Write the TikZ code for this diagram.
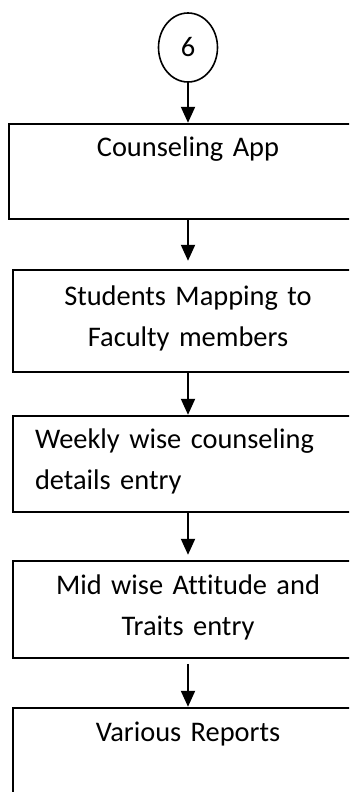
\documentclass[tikz,border=0pt]{standalone}
\usepackage{fontspec}
\setmainfont[RawFeature={-liga;-clig;-dlig;-calt}]{Carlito}
\usetikzlibrary{positioning, arrows.meta, shapes.geometric}
\newcommand\linestrut{\rule[-5pt]{0pt}{15.5pt}}

\begin{document}
\begin{tikzpicture}[
    >={Triangle[length=8pt, width=7pt]},
    node distance=24pt,
    every node/.style={font=\fontsize{14.2}{20.5}\selectfont},
    stepbox/.style={draw, line width=1pt, minimum width=175pt, minimum height=48pt, text width=153pt, inner xsep=11pt, inner ysep=0pt, align=center, execute at begin node=\linestrut, execute at end node=\linestrut},
    startnode/.style={draw, ellipse, line width=0.8pt, minimum width=29.5pt, minimum height=34.5pt, inner sep=0pt},
    flow/.style={->, line width=1pt},
]

    % page frame (boxes run off the right and bottom edge)
    \useasboundingbox (0,0) rectangle (174.5pt,-396pt);
    \clip (0,0) rectangle (174.5pt,-396pt);

    % 1. Connector
    \node[startnode] (start) at (94pt,-23.75pt) {6};

    % 2. Steps
    \node[stepbox, below=20pt of start, minimum width=179pt, text width=157pt, minimum height=47.5pt] (app) {Counseling App\\};
    \node[stepbox, below=24.5pt of app, minimum height=51pt] (map) {Students Mapping to\\Faculty members};
    \node[stepbox, below=21pt of map, align=left] (weekly) {Weekly wise counseling\\details entry};
    \node[stepbox, below=23.5pt of weekly, minimum height=48.5pt] (mid) {Mid wise Attitude and\\Traits entry};
    \node[stepbox, below=24pt of mid, minimum height=49pt] (reports) {Various Reports\\};

    % --- Connections ---
    \draw[flow] (start) -- (app);
    \draw[flow, shorten >=4pt] (app) -- (map);
    \draw[flow] (map) -- (weekly);
    \draw[flow, shorten >=2.5pt] (weekly) -- (mid);
    \draw[flow, shorten <=2.5pt] (mid) -- (reports);

\end{tikzpicture}
\end{document}
